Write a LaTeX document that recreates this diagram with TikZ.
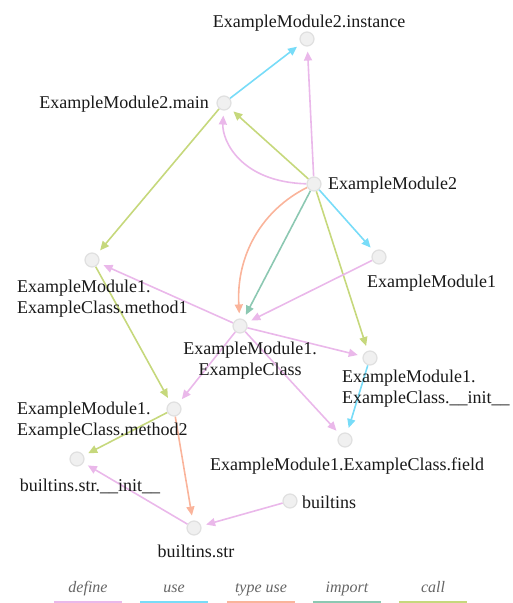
\documentclass[tikz,border=0pt]{standalone}
\usepackage{fontspec}
\setmainfont{Liberation Serif}
\usetikzlibrary{arrows.meta,backgrounds}
\definecolor{cdefine}{RGB}{234,184,234}
\definecolor{cuse}{RGB}{120,220,248}
\definecolor{ctype}{RGB}{250,180,155}
\definecolor{cimport}{RGB}{140,200,178}
\definecolor{ccall}{RGB}{198,216,124}
\begin{document}
\begin{tikzpicture}[x=1pt,y=-1pt,
  vert/.style={circle,minimum size=14pt,inner sep=0pt,fill=black!6,draw=black!12,line width=1.2pt},
  lab/.style={inner sep=0pt,font=\fontsize{18}{20.5}\selectfont,text=black!90,align=left},
  leg/.style={inner sep=0pt,font=\fontsize{16}{18}\selectfont\itshape,text=black!60},
  link/.style={line width=1.6pt,-{Triangle[length=9pt,width=8pt]},shorten >=5pt},
  swatch/.style={line width=2pt}]
\useasboundingbox (0,0) rectangle (513,603);
% vertices
\node[vert] (inst) at (307,39) {};
\node[vert] (main) at (224,103) {};
\node[vert] (em2) at (314,184) {};
\node[vert] (m1) at (92,260) {};
\node[vert] (em1) at (379,257) {};
\node[vert] (cls) at (240,326) {};
\node[vert] (init) at (370,358) {};
\node[vert] (m2) at (174,409) {};
\node[vert] (field) at (345,440) {};
\node[vert] (sinit) at (77,459) {};
\node[vert] (bi) at (290,501) {};
\node[vert] (str) at (194,528) {};
% labels (multi-line: base anchor is at the last line)
\node[lab,anchor=base] (instL) at (309,27) {ExampleModule2.instance};
\node[lab,anchor=base east] (mainL) at (209,108) {ExampleModule2.main};
\node[lab,anchor=base west] (em2L) at (328,189) {ExampleModule2};
\node[lab,anchor=base west] (m1L) at (17,313) {ExampleModule1.\\ExampleClass.method1};
\node[lab,anchor=base west] (em1L) at (367,287) {ExampleModule1};
\node[lab,anchor=base,align=center] (clsL) at (250,375) {ExampleModule1.\\ExampleClass};
\node[lab,anchor=base west] (initL) at (342,403) {ExampleModule1.\\ExampleClass.\_\_init\_\_};
\node[lab,anchor=base west] (m2L) at (17,435) {ExampleModule1.\\ExampleClass.method2};
\node[lab,anchor=base] (fieldL) at (347,470) {ExampleModule1.ExampleClass.field};
\node[lab,anchor=base] (sinitL) at (90,491) {builtins.str.\_\_init\_\_};
\node[lab,anchor=base west] (biL) at (302,508) {builtins};
\node[lab,anchor=base] (strL) at (196,557) {builtins.str};
% edges
\begin{pgfonlayer}{background}
\draw[link,cuse] (main) -- (inst);
\draw[link,cdefine] (em2) -- (inst);
\draw[link,ccall] (em2) -- (main);
\draw[link,cdefine] (em2) .. controls (240,182) and (222,140) .. (main);
\draw[link,ccall] (main) -- (m1);
\draw[link,ctype] (em2) .. controls (262,210) and (236,255) .. (cls);
\draw[link,cimport] (em2) -- (cls);
\draw[link,cuse] (em2) -- (em1);
\draw[link,ccall] (em2) -- (init);
\draw[link,cdefine] (em1) -- (cls);
\draw[link,cdefine] (cls) -- (m1);
\draw[link,cdefine] (cls) -- (init);
\draw[link,cdefine] (cls) -- (m2);
\draw[link,cdefine] (cls) -- (field);
\draw[link,cuse] (init) -- (field);
\draw[link,ccall] (m1) -- (m2);
\draw[link,ccall] (m2) -- (sinit);
\draw[link,ctype] (m2) -- (str);
\draw[link,cdefine] (str) -- (sinit);
\draw[link,cdefine] (bi) -- (str);
\end{pgfonlayer}
% legend
\node[leg,anchor=base] (lgDefine) at (88,592) {define};
\node[leg,anchor=base] (lgUse) at (174,592) {use};
\node[leg,anchor=base] (lgType) at (261,592) {type use};
\node[leg,anchor=base] (lgImport) at (347,592) {import};
\node[leg,anchor=base] (lgCall) at (433,592) {call};
\draw[swatch,cdefine] (54,601.5) -- (122,601.5);
\draw[swatch,cuse] (140,601.5) -- (208,601.5);
\draw[swatch,ctype] (227,601.5) -- (295,601.5);
\draw[swatch,cimport] (313,601.5) -- (381,601.5);
\draw[swatch,ccall] (399,601.5) -- (467,601.5);
\end{tikzpicture}
\end{document}
